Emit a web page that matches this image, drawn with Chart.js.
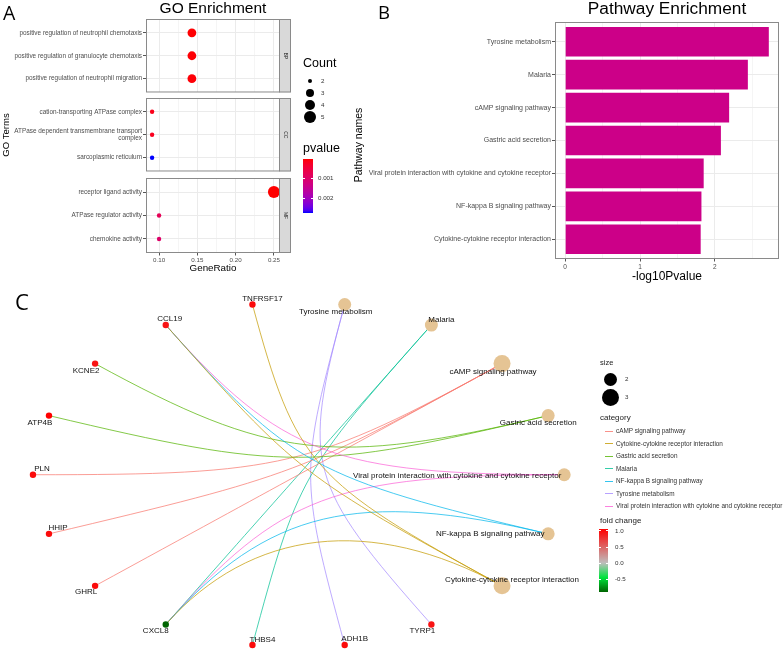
<!DOCTYPE html>
<html><head><meta charset="utf-8"><title>GO and Pathway Enrichment</title>
<script src="https://cdn.jsdelivr.net/npm/chart.js@4.4.1/dist/chart.umd.min.js"></script>
<style>
html,body{margin:0;padding:0;background:#fff;}
body{width:784px;height:658px;position:relative;overflow:hidden;font-family:"Liberation Sans",Arial,sans-serif;}
canvas{position:absolute;display:block;}
.t{position:absolute;white-space:nowrap;line-height:1;}
.sw{position:absolute;}
</style></head><body>
<canvas id="goBP" width="300" height="85" style="left:0;top:12px;width:300px;height:85px"></canvas>
<canvas id="goCC" width="300" height="85" style="left:0;top:91px;width:300px;height:85px"></canvas>
<canvas id="goMF" width="300" height="109" style="left:0;top:171px;width:300px;height:109px"></canvas>
<canvas id="kegg" width="484" height="280" style="left:300px;top:0;width:484px;height:280px"></canvas>
<canvas id="cnet" width="784" height="378" style="left:0;top:280px;width:784px;height:378px"></canvas>
<script>
// ================= DATA =================
// Panel A : GO enrichment (three facets)
const goTermsBP = ["positive regulation of neutrophil chemotaxis","positive regulation of granulocyte chemotaxis","positive regulation of neutrophil migration"];
const goRatioBP = [0.1429, 0.1429, 0.1429];
const goCountBP = [3, 3, 3];
const goPvalBP  = [0.00006, 0.00007, 0.00008];
const goTermsCC = ["cation-transporting ATPase complex","ATPase dependent transmembrane transport complex","sarcoplasmic reticulum"];
const goRatioCC = [0.0909, 0.0909, 0.0909];
const goCountCC = [2, 2, 2];
const goPvalCC  = [0.00018, 0.00022, 0.00275];
const goTermsMF = ["receptor ligand activity","ATPase regulator activity","chemokine activity"];
const goRatioMF = [0.25, 0.10, 0.10];
const goCountMF = [5, 2, 2];
const goPvalMF  = [0.00005, 0.0008, 0.001];
const goFacets = ["BP","CC","MF"];
const geneRatioTicks = [0.10, 0.15, 0.20, 0.25];
const countLegendValues = [2, 3, 4, 5];
const pvalueLegendTicks = [0.001, 0.002];

// Panel B : pathway enrichment
const pathwayNames = ["Tyrosine metabolism","Malaria","cAMP signaling pathway","Gastric acid secretion","Viral protein interaction with cytokine and cytokine receptor","NF-kappa B signaling pathway","Cytokine-cytokine receptor interaction"];
const pathwayLog10P = [2.72, 2.44, 2.19, 2.08, 1.85, 1.82, 1.81];
const log10PTicks = [0, 1, 2];

// Panel C : gene-pathway network
const cnetGenes = ["TYRP1","ADH1B","THBS4","CXCL8","GHRL","HHIP","PLN","ATP4B","KCNE2","CCL19","TNFRSF17"];
const cnetFoldChange = [0.95, 1.0, 1.0, -0.9, 1.0, 1.0, 1.0, 1.06, 0.95, 0.95, 1.0];
const pathwayGenes = [
  ["ADH1B","TYRP1"],
  ["CXCL8","THBS4"],
  ["PLN","HHIP","GHRL"],
  ["KCNE2","ATP4B"],
  ["CCL19","CXCL8"],
  ["CCL19","CXCL8"],
  ["TNFRSF17","CCL19","CXCL8"]
];
const sizeLegendValues = [2, 3];
const foldChangeTicks = [1.0, 0.5, 0.0, -0.5];

// ================= STYLE / HELPERS =================
const FONT = '"Liberation Sans", Arial, sans-serif';
Chart.defaults.font.family = FONT;
Chart.defaults.animation = false;
Chart.defaults.responsive = false;
Chart.defaults.events = [];
Chart.defaults.plugins.legend.display = false;
Chart.defaults.plugins.tooltip.enabled = false;

const GRID = '#EBEBEB', FRAME = '#8a8a8a', TICKC = '#555', AXTXT = '#4D4D4D';

function addText(str, x, y, size, o = {}) {
  const d = document.createElement('div');
  d.className = 't'; d.textContent = str;
  d.style.left = x + 'px'; d.style.top = y + 'px'; d.style.fontSize = size + 'px';
  d.style.color = o.color || '#000'; d.style.fontFamily = o.family || FONT;
  const tx = o.anchor === 'left' ? '0' : o.anchor === 'right' ? '-100%' : '-50%';
  d.style.transform = `translate(${tx},-50%)` + (o.rotate ? ` rotate(${o.rotate}deg)` : '');
  document.body.appendChild(d);
  return d;
}
function addBox(x, y, w, h, css) {
  const d = document.createElement('div'); d.className = 'sw';
  d.style.left = x + 'px'; d.style.top = y + 'px'; d.style.width = w + 'px'; d.style.height = h + 'px';
  Object.assign(d.style, css || {});
  document.body.appendChild(d); return d;
}
function wrapLabel(s, width) {
  const words = s.split(' '); const lines = []; let cur = '';
  words.forEach(w => { if (cur && (cur + ' ' + w).length > width) { lines.push(cur); cur = w; } else cur = cur ? cur + ' ' + w : w; });
  lines.push(cur); return lines.length > 1 ? lines : lines[0];
}
// Lab interpolation (like ggplot gradients)
function s2l(c){c/=255;return c<=0.04045?c/12.92:Math.pow((c+0.055)/1.055,2.4);}
function l2s(c){const v=c<=0.0031308?12.92*c:1.055*Math.pow(c,1/2.4)-0.055;return Math.round(Math.max(0,Math.min(1,v))*255);}
function rgb2lab(c){const R=s2l(c[0]),G=s2l(c[1]),B=s2l(c[2]);
  const X=(0.4124*R+0.3576*G+0.1805*B)/0.95047,Y=0.2126*R+0.7152*G+0.0722*B,Z=(0.0193*R+0.1192*G+0.9505*B)/1.08883;
  const f=t=>t>0.008856?Math.cbrt(t):7.787*t+16/116;const fx=f(X),fy=f(Y),fz=f(Z);
  return [116*fy-16,500*(fx-fy),200*(fy-fz)];}
function lab2rgb(l){const fy=(l[0]+16)/116,fx=fy+l[1]/500,fz=fy-l[2]/200;
  const fi=t=>t>0.206893?t*t*t:(t-16/116)/7.787;
  const X=fi(fx)*0.95047,Y=fi(fy),Z=fi(fz)*1.08883;
  return [l2s(3.2406*X-1.5372*Y-0.4986*Z),l2s(-0.9689*X+1.8758*Y+0.0415*Z),l2s(0.0557*X-0.2040*Y+1.0570*Z)];}
const LAB_RED = rgb2lab([255,0,0]), LAB_BLUE = rgb2lab([0,0,255]);

// ================= PANEL A =================
const allP = [...goPvalBP, ...goPvalCC, ...goPvalMF];
const P_MIN = Math.min(...allP), P_MAX = Math.max(...allP);
function pColor(p) {
  const t = Math.max(0, Math.min(1, (p - P_MIN) / (P_MAX - P_MIN)));
  const c = lab2rgb(LAB_RED.map((v, i) => v + (LAB_BLUE[i] - v) * t));
  return `rgb(${c[0]},${c[1]},${c[2]})`;
}
const allCounts = [...goCountBP, ...goCountCC, ...goCountMF];
const C_MIN = Math.min(...allCounts), C_MAX = Math.max(...allCounts);
function countRadius(c) { return 2.2 + 3.8 * Math.sqrt((c - C_MIN) / (C_MAX - C_MIN)); }

const allRatios = [...goRatioBP, ...goRatioCC, ...goRatioMF];
const R_MIN = Math.min(...allRatios), R_MAX = Math.max(...allRatios), R_PAD = (R_MAX - R_MIN) * 0.05;
const goGridValues = [];
geneRatioTicks.forEach((v, i) => { goGridValues.push(v); if (i < geneRatioTicks.length - 1) goGridValues.push((v + geneRatioTicks[i + 1]) / 2); });
const isMajorRatio = v => geneRatioTicks.some(t => Math.abs(t - v) < 1e-9);

function facetPlugin(label) {
  return {
    id: 'facet' + label,
    afterDatasetsDraw(chart) {
      const { ctx, chartArea: a } = chart;
      ctx.save();
      ctx.lineWidth = 1; ctx.strokeStyle = FRAME;
      ctx.strokeRect(a.left + 0.5, a.top + 0.5, a.right - a.left - 1, a.bottom - a.top - 1);
      ctx.fillStyle = '#D9D9D9';
      ctx.fillRect(a.right, a.top, 11, a.bottom - a.top);
      ctx.strokeRect(a.right - 0.5, a.top + 0.5, 11, a.bottom - a.top - 1);
      ctx.translate(a.right + 5.5, (a.top + a.bottom) / 2);
      ctx.rotate(Math.PI / 2);
      ctx.fillStyle = '#1A1A1A'; ctx.font = '5px ' + FONT; ctx.textAlign = 'center'; ctx.textBaseline = 'middle';
      ctx.fillText(label, 0, 0);
      ctx.restore();
    }
  };
}

function makeGoPanel(id, facet, terms, ratios, counts, pvals, showX) {
  new Chart(document.getElementById(id), {
    type: 'scatter',
    data: { datasets: [{
      data: ratios.map((r, i) => ({ x: r, y: i + 1 })),
      pointRadius: ctx => countRadius(counts[ctx.dataIndex]),
      pointBackgroundColor: ctx => pColor(pvals[ctx.dataIndex]),
      pointBorderWidth: 0, clip: false
    }] },
    options: {
      layout: { padding: { top: 7, right: 20, bottom: showX ? 0 : 3, left: 0 } },
      scales: {
        x: {
          type: 'linear', min: R_MIN - R_PAD, max: R_MAX + R_PAD,
          afterBuildTicks: s => { s.ticks = goGridValues.map(v => ({ value: v })); },
          afterFit: s => { s.height = showX ? 27 : 0; },
          border: { display: false },
          grid: { color: GRID, lineWidth: c => isMajorRatio(c.tick.value) ? 1 : 0.5, drawTicks: showX, tickLength: 2.5,
                  tickColor: c => isMajorRatio(c.tick.value) ? TICKC : 'rgba(0,0,0,0)' },
          ticks: { display: showX, autoSkip: false, maxRotation: 0, padding: 1, color: AXTXT, font: { size: 6.2 },
                   callback: v => isMajorRatio(v) ? v.toFixed(2) : '' }
        },
        y: {
          type: 'linear', min: 0.4, max: terms.length + 0.6, reverse: true, offset: false,
          afterBuildTicks: s => { s.ticks = terms.map((t, i) => ({ value: i + 1 })); },
          afterFit: s => { s.width = 146; },
          border: { display: false },
          grid: { color: GRID, lineWidth: 1, tickLength: 3, tickColor: TICKC, offset: false },
          ticks: { autoSkip: false, padding: 1, color: AXTXT, font: { size: 6.4, lineHeight: 1.1 },
                   callback: v => wrapLabel(terms[Math.round(v) - 1], 46) }
        }
      }
    },
    plugins: [facetPlugin(facet)]
  });
}
makeGoPanel('goBP', goFacets[0], goTermsBP, goRatioBP, goCountBP, goPvalBP, false);
makeGoPanel('goCC', goFacets[1], goTermsCC, goRatioCC, goCountCC, goPvalCC, false);
makeGoPanel('goMF', goFacets[2], goTermsMF, goRatioMF, goCountMF, goPvalMF, true);

addText('A', 3, 13, 19.5, { anchor: 'left', family: '"Open Sans", ' + FONT });
addText('GO Enrichment', 213, 8, 15.5);
addText('GO Terms', 6, 135, 9.6, { rotate: -90 });
addText('GeneRatio', 213, 268, 9.8);
// Count legend
addText('Count', 303, 63, 12.5, { anchor: 'left' });
countLegendValues.forEach((c, i) => {
  const cy = 81 + 12 * i, r = countRadius(c);
  addBox(310 - r, cy - r, 2 * r, 2 * r, { background: '#000', borderRadius: '50%' });
  addText(String(c), 321, cy, 6.2, { anchor: 'left', color: '#333' });
});
// pvalue legend
addText('pvalue', 303, 148, 12.5, { anchor: 'left' });
(function () {
  const top = 159, h = 54, stops = [];
  for (let i = 0; i <= 20; i++) { const p = P_MIN + (P_MAX - P_MIN) * i / 20; stops.push(pColor(p) + ' ' + (i * 5) + '%'); }
  addBox(303, top, 10, h, { background: `linear-gradient(to bottom, ${stops.join(',')})` });
  pvalueLegendTicks.forEach(p => {
    const y = top + (p - P_MIN) / (P_MAX - P_MIN) * h;
    addBox(303, y - 0.5, 2, 1, { background: '#fff' });
    addBox(311, y - 0.5, 2, 1, { background: '#fff' });
    addText(p.toFixed(3), 318, y, 6.2, { anchor: 'left', color: '#333' });
  });
})();

// ================= PANEL B =================
const L_MAX = Math.max(...pathwayLog10P);
const keggGrid = [];
log10PTicks.forEach(v => { keggGrid.push(v); keggGrid.push(v + 0.5); });
new Chart(document.getElementById('kegg'), {
  type: 'bar',
  data: { datasets: [{
    data: pathwayLog10P.map((v, i) => ({ x: v, y: i + 1 })),
    backgroundColor: '#CC0088', borderWidth: 0,
    barPercentage: 0.9, categoryPercentage: 1.0
  }] },
  options: {
    indexAxis: 'y',
    layout: { padding: { top: 22, right: 5, bottom: 0, left: 0 } },
    scales: {
      x: {
        type: 'linear', min: -0.05 * L_MAX, max: 1.05 * L_MAX, offset: false,
        afterBuildTicks: s => { s.ticks = keggGrid.map(v => ({ value: v })); },
        afterFit: s => { s.height = 21; },
        border: { display: false },
        grid: { color: GRID, lineWidth: c => Number.isInteger(c.tick.value) ? 1 : 0.5, tickLength: 2.5, offset: false,
                tickColor: c => Number.isInteger(c.tick.value) ? TICKC : 'rgba(0,0,0,0)' },
        ticks: { autoSkip: false, maxRotation: 0, padding: 1.5, color: AXTXT, font: { size: 6.5 },
                 callback: v => Number.isInteger(v) ? String(v) : '' }
      },
      y: {
        type: 'linear', min: 0.4, max: pathwayNames.length + 0.6, reverse: true, offset: false,
        afterBuildTicks: s => { s.ticks = pathwayNames.map((n, i) => ({ value: i + 1 })); },
        afterFit: s => { s.width = 255; },
        border: { display: false },
        grid: { color: GRID, lineWidth: 1, tickLength: 3, tickColor: TICKC, offset: false },
        ticks: { autoSkip: false, padding: 1, color: AXTXT, font: { size: 7 },
                 callback: v => pathwayNames[Math.round(v) - 1] }
      }
    }
  },
  plugins: [{
    id: 'frameB',
    afterDatasetsDraw(chart) {
      const { ctx, chartArea: a } = chart;
      ctx.save(); ctx.lineWidth = 1; ctx.strokeStyle = FRAME;
      ctx.strokeRect(a.left + 0.5, a.top + 0.5, a.right - a.left - 1, a.bottom - a.top - 1);
      ctx.restore();
    }
  }]
});
addText('B', 378, 12, 18.6, { anchor: 'left', family: '"Open Sans", ' + FONT });
addText('Pathway Enrichment', 667, 9, 17.3);
addText('Pathway names', 357.5, 145, 10.5, { rotate: -90 });
addText('-log10Pvalue', 667, 276, 12);

// ================= PANEL C =================
const cnetNodes = [...pathwayNames, ...cnetGenes];
const LAYOUT_START = 80, LAYOUT_STEP = 360 / cnetNodes.length;
const nodePos = {};
cnetNodes.forEach((n, i) => { const a = (LAYOUT_START - LAYOUT_STEP * i) * Math.PI / 180; nodePos[n] = { x: Math.cos(a), y: Math.sin(a) }; });
const categoryOrder = [...pathwayNames].sort((a, b) => a.localeCompare(b, 'en', { sensitivity: 'base' }));
const huePalette = ['#F8766D', '#C49A00', '#53B400', '#00C094', '#00B6EB', '#A58AFF', '#FB61D7'];
const catColor = n => huePalette[categoryOrder.indexOf(n)];
const edges = [];
pathwayNames.forEach((p, i) => pathwayGenes[i].forEach(g => edges.push({ gene: g, path: p })));

const FC_MIN = Math.min(...cnetFoldChange), FC_MAX = Math.max(...cnetFoldChange);
const fcStops = [[FC_MIN, [0, 100, 0]], [FC_MIN / 2, [0, 228, 60]], [0, [190, 190, 190]], [FC_MAX, [255, 0, 0]]];
function fcColor(v) {
  for (let i = 0; i < fcStops.length - 1; i++) {
    const [a, ca] = fcStops[i], [b, cb] = fcStops[i + 1];
    if (v <= b || i === fcStops.length - 2) {
      const t = Math.max(0, Math.min(1, (v - a) / (b - a)));
      return `rgb(${ca.map((c, k) => Math.round(c + (cb[k] - c) * t)).join(',')})`;
    }
  }
}
const pathRadius = n => 6.5 + 2 * (n - 2);
const GENE_R = 3.2;

const cnetLabelOffset = {
  "Tyrosine metabolism": [-9, 7], "Malaria": [10, -5], "cAMP signaling pathway": [-9, 8],
  "Gastric acid secretion": [-10, 7], "Viral protein interaction with cytokine and cytokine receptor": [-107, 1],
  "NF-kappa B signaling pathway": [-58, 0], "Cytokine-cytokine receptor interaction": [10, -6],
  TYRP1: [-9, 6], ADH1B: [10, -6], THBS4: [10, -5], CXCL8: [-10, 6], GHRL: [-9, 6], HHIP: [9, -6],
  PLN: [9, -6], ATP4B: [-9, 7], KCNE2: [-9, 7], CCL19: [4, -6], TNFRSF17: [10, -6]
};
const CX = 296.5, CY = 195, RX = 271.5, RY = 181;
function hexA(h, a) { const n = parseInt(h.slice(1), 16); return `rgba(${n >> 16},${(n >> 8) & 255},${n & 255},${a})`; }

new Chart(document.getElementById('cnet'), {
  type: 'scatter',
  data: { datasets: [
    { data: pathwayNames.map(n => nodePos[n]), pointRadius: c => pathRadius(pathwayGenes[c.dataIndex].length),
      pointBackgroundColor: '#E5C494', pointBorderWidth: 0, clip: false },
    { data: cnetGenes.map(n => nodePos[n]), pointRadius: GENE_R,
      pointBackgroundColor: c => fcColor(cnetFoldChange[c.dataIndex]), pointBorderWidth: 0, clip: false }
  ] },
  options: {
    layout: { padding: 0 },
    scales: {
      x: { type: 'linear', display: false, min: -CX / RX, max: (784 - CX) / RX },
      y: { type: 'linear', display: false, min: -(378 - CY) / RY, max: CY / RY }
    }
  },
  plugins: [{
    id: 'edges',
    beforeDatasetsDraw(chart) {
      const { ctx, scales: { x, y } } = chart;
      ctx.save(); ctx.lineWidth = 0.9;
      edges.forEach(e => {
        const p0 = nodePos[e.gene], p3 = nodePos[e.path];
        const k = 1 - Math.hypot(p0.x - p3.x, p0.y - p3.y) / 2;
        ctx.strokeStyle = hexA(catColor(e.path), 0.8);
        ctx.beginPath();
        ctx.moveTo(x.getPixelForValue(p0.x), y.getPixelForValue(p0.y));
        ctx.bezierCurveTo(x.getPixelForValue(p0.x * k), y.getPixelForValue(p0.y * k),
                          x.getPixelForValue(p3.x * k), y.getPixelForValue(p3.y * k),
                          x.getPixelForValue(p3.x), y.getPixelForValue(p3.y));
        ctx.stroke();
      });
      ctx.restore();
    },
    afterDatasetsDraw(chart) {
      const { ctx, scales: { x, y } } = chart;
      ctx.save(); ctx.font = '8px ' + FONT; ctx.fillStyle = '#111'; ctx.textAlign = 'center'; ctx.textBaseline = 'middle';
      cnetNodes.forEach(n => {
        const p = nodePos[n], o = cnetLabelOffset[n] || [0, 0];
        ctx.fillText(n, x.getPixelForValue(p.x) + o[0], y.getPixelForValue(p.y) + o[1]);
      });
      ctx.restore();
    }
  }]
});
addText('C', 15, 301, 22, { anchor: 'left', family: '"Open Sans", ' + FONT });
// size legend
addText('size', 600, 363, 7.5, { anchor: 'left', color: '#222' });
sizeLegendValues.forEach((s, i) => {
  const cy = [379, 397][i], r = pathRadius(s);
  addBox(610 - r, cy - r, 2 * r, 2 * r, { background: '#000', borderRadius: '50%' });
  addText(String(s), 625, cy, 6.2, { anchor: 'left', color: '#333' });
});
// category legend
addText('category', 600, 418, 8, { anchor: 'left', color: '#222' });
categoryOrder.forEach((n, i) => {
  const cy = 431 + 12.5 * i;
  addBox(605, cy - 0.5, 8, 1, { background: hexA(catColor(n), 0.8) });
  addText(n, 616, cy, 6.4, { anchor: 'left', color: '#333' });
});
// fold change legend
addText('fold change', 600, 521, 8, { anchor: 'left', color: '#222' });
(function () {
  const top = 529, h = 63, stops = [];
  for (let i = 0; i <= 30; i++) { const v = FC_MAX - (FC_MAX - FC_MIN) * i / 30; stops.push(fcColor(v) + ' ' + (i * 100 / 30).toFixed(2) + '%'); }
  addBox(599, top, 9, h, { background: `linear-gradient(to bottom, ${stops.join(',')})` });
  foldChangeTicks.forEach(v => {
    const y = top + (FC_MAX - v) / (FC_MAX - FC_MIN) * h;
    addBox(599, y - 0.5, 2, 1, { background: '#fff' });
    addBox(606, y - 0.5, 2, 1, { background: '#fff' });
    addText(v.toFixed(1), 615, y, 6.2, { anchor: 'left', color: '#333' });
  });
})();
</script></body></html>
